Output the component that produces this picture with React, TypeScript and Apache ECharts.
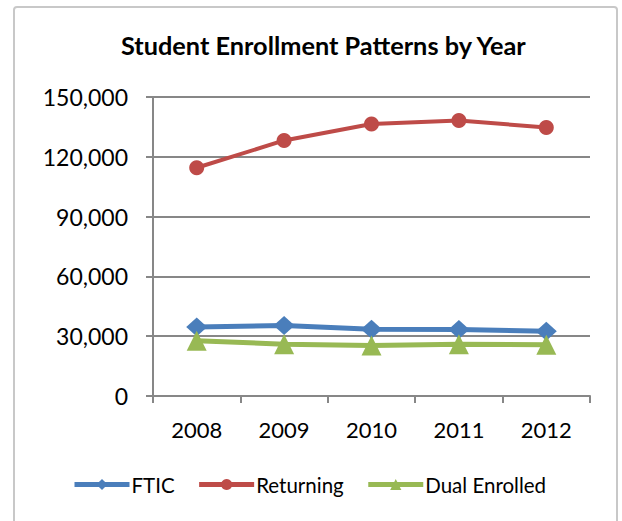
import React, { useEffect, useRef } from "react";
import * as echarts from "echarts";

const years = ["2008", "2009", "2010", "2011", "2012"];
const ftic = [34600, 35400, 33500, 33300, 32500];
const returning = [114500, 128200, 136500, 138200, 134700];
const dualEnrolled = [27700, 26000, 25300, 25900, 25700];

const FONT = "Lato, 'Open Sans', sans-serif";

export default function App() {
  const ref = useRef<HTMLDivElement>(null);
  useEffect(() => {
    document.body.style.margin = "0";
    const chart = echarts.init(ref.current!, null, { renderer: "svg" });
    chart.setOption({
      animation: false,
      backgroundColor: "#ffffff",
      title: {
        text: "Student Enrollment Patterns by Year",
        left: 121,
        top: 32,
        padding: 0,
        textStyle: { fontFamily: FONT, fontSize: 25.3, fontWeight: "bold", color: "#000" },
      },
      graphic: [
        {
          type: "rect",
          shape: { x: 14, y: 7, width: 603, height: 530, r: 3 },
          style: { fill: "none", stroke: "#c8c8c8", lineWidth: 2 },
          silent: true,
        },
      ],
      legend: {
        left: 72,
        top: 474,
        padding: 0,
        itemWidth: 55,
        itemHeight: 14,
        itemGap: 22,
        lineStyle: { width: 5 },
        textStyle: { fontFamily: FONT, fontSize: 20.5, color: "#000", padding: [0, 0, 0, -3] },
        data: ["FTIC", "Returning", "Dual Enrolled"],
      },
      grid: { left: 153, right: 32, top: 97, bottom: 125 },
      xAxis: {
        type: "category",
        data: years,
        boundaryGap: true,
        axisLine: { lineStyle: { color: "#878787", width: 2 } },
        axisTick: { show: true, length: 7, lineStyle: { color: "#878787", width: 2 } },
        axisLabel: { fontFamily: FONT, fontSize: 22, color: "#000", margin: 22 },
      },
      yAxis: {
        type: "value",
        min: 0,
        max: 150000,
        interval: 30000,
        axisLine: { show: true, lineStyle: { color: "#878787", width: 2 } },
        axisTick: { show: true, length: 7, lineStyle: { color: "#878787", width: 2 } },
        splitLine: { lineStyle: { color: "#878787", width: 2 } },
        axisLabel: {
          fontFamily: FONT,
          fontSize: 23,
          color: "#000",
          margin: 25,
          formatter: (v: number) => v.toLocaleString("en-US"),
        },
      },
      series: [
        {
          name: "FTIC",
          type: "line",
          data: ftic,
          symbol: "diamond",
          symbolSize: [21, 19],
          color: "#4A7EBB",
          lineStyle: { width: 5, color: "#4A7EBB" },
          itemStyle: { color: "#4A7EBB" },
        },
        {
          name: "Returning",
          type: "line",
          data: returning,
          symbol: "circle",
          symbolSize: 15,
          color: "#BE4B48",
          lineStyle: { width: 4, color: "#BE4B48" },
          itemStyle: { color: "#BE4B48" },
        },
        {
          name: "Dual Enrolled",
          type: "line",
          data: dualEnrolled,
          symbol: "triangle",
          symbolSize: [20, 20],
          color: "#98B954",
          lineStyle: { width: 5, color: "#98B954" },
          itemStyle: { color: "#98B954" },
        },
      ],
    });
    return () => chart.dispose();
  }, []);
  return <div ref={ref} style={{ width: 622, height: 521 }} />;
}
